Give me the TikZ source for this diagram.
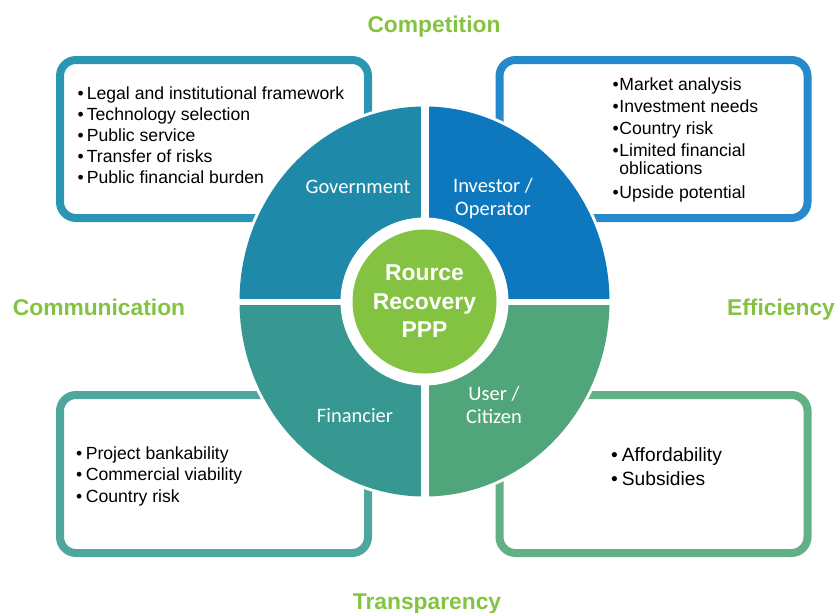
\documentclass[tikz,border=0pt]{standalone}
\usepackage{fontspec}
\setmainfont{Liberation Sans}
\newfontfamily\partfont{Carlito}
\definecolor{govc}{HTML}{1E89A8}
\definecolor{invc}{HTML}{0E78BF}
\definecolor{finc}{HTML}{369891}
\definecolor{usrc}{HTML}{50A67A}
\definecolor{hubc}{HTML}{84C342}
\definecolor{govline}{HTML}{2B96B4}
\definecolor{invline}{HTML}{2689CB}
\definecolor{finline}{HTML}{4EA69D}
\definecolor{usrline}{HTML}{61B086}
\begin{document}
\begin{tikzpicture}[x=1pt, y=-1pt, line join=round,
    infobox/.style={draw=#1, fill=white, line width=8pt, rounded corners=16pt,
      minimum width=308pt, minimum height=158pt, inner sep=0pt},
    itemlist/.style={anchor=base west, inner sep=0pt},
    part/.style={text=white, align=center, inner sep=0pt,
      font=\partfont\fontsize{20.5}{23}\selectfont},
    goal/.style={text=hubc, anchor=base, inner sep=0pt,
      font=\bfseries\fontsize{22.8}{26}\selectfont}]
  \useasboundingbox (0,0) rectangle (838,613);
  % Boxes behind the wheel
  \node[infobox=govline] (govbox) at (214,139) {};
  \node[infobox=invline] (invbox) at (653.5,139) {};
  \node[infobox=finline] (finbox) at (214,474) {};
  \node[infobox=usrline] (usrbox) at (653.5,474) {};
  % Wheel: four quarters, white gaps, green hub
  \coordinate (mid) at (424.5,301.5);
  \fill[white] (mid) ellipse[x radius=188, y radius=198];
  \fill[govc] (mid) -- ++(-185,0) arc[start angle=180, end angle=270, x radius=185, y radius=195] -- cycle;
  \fill[invc] (mid) -- ++(0,-195) arc[start angle=270, end angle=360, x radius=185, y radius=195] -- cycle;
  \fill[usrc] (mid) -- ++(185,0) arc[start angle=0, end angle=90, x radius=185, y radius=195] -- cycle;
  \fill[finc] (mid) -- ++(0,195) arc[start angle=90, end angle=180, x radius=185, y radius=195] -- cycle;
  \draw[white, line width=8pt] (mid) ++(0,-200) -- ++(0,400);
  \draw[white, line width=6pt] (mid) ++(-190,0) -- ++(380,0);
  \fill[white] (mid) circle[radius=84];
  \node[circle, fill=hubc, minimum size=144pt, inner sep=0pt, text=white, align=center,
    font=\bfseries\fontsize{22.9}{28.5}\selectfont] (core) at (mid) {Rource\\Recovery\\PPP};
  % Quarter labels
  \node[part] (gov) at (358,186.5) {Government};
  \node[part] (inv) at (493,198.5) {Investor /\\Operator};
  \node[part] (fin) at (355,416) {Financier};
  \node[part] (usr) at (494,404.5) {User /\\Citizen};
  % Item lists
  \node[itemlist, font=\fontsize{17.6}{21}\selectfont] (govlist) at (77.5,99) {%
    \begin{tabular}[t]{@{}l@{\hspace{3pt}}l@{}}
      \textbullet & Legal and institutional framework\\
      \textbullet & Technology selection\\
      \textbullet & Public service\\
      \textbullet & Transfer of risks\\
      \textbullet & Public financial burden
    \end{tabular}};
  \node[itemlist, font=\fontsize{17.6}{22}\selectfont] (invlist) at (612.5,90) {%
    \begin{tabular}[t]{@{}l@{\hspace{0.5pt}}l@{}}
      \textbullet & Market analysis\\
      \textbullet & Investment needs\\
      \textbullet & Country risk\\
      \textbullet & Limited financial\\[-4pt]
                  & oblications\\[2pt]
      \textbullet & Upside potential
    \end{tabular}};
  \node[itemlist, font=\fontsize{17.6}{21.5}\selectfont] (finlist) at (76,459) {%
    \begin{tabular}[t]{@{}l@{\hspace{3.5pt}}l@{}}
      \textbullet & Project bankability\\
      \textbullet & Commercial viability\\
      \textbullet & Country risk
    \end{tabular}};
  \node[itemlist, font=\fontsize{19.2}{24.7}\selectfont] (usrlist) at (611,461) {%
    \begin{tabular}[t]{@{}l@{\hspace{4pt}}l@{}}
      \textbullet & Affordability\\
      \textbullet & Subsidies
    \end{tabular}};
  % Principles round the wheel
  \node[goal] (competition) at (434,32) {Competition};
  \node[goal] (communication) at (99,315) {Communication};
  \node[goal] (efficiency) at (781,315) {Efficiency};
  \node[goal] (transparency) at (427,609) {Transparency};
\end{tikzpicture}
\end{document}
